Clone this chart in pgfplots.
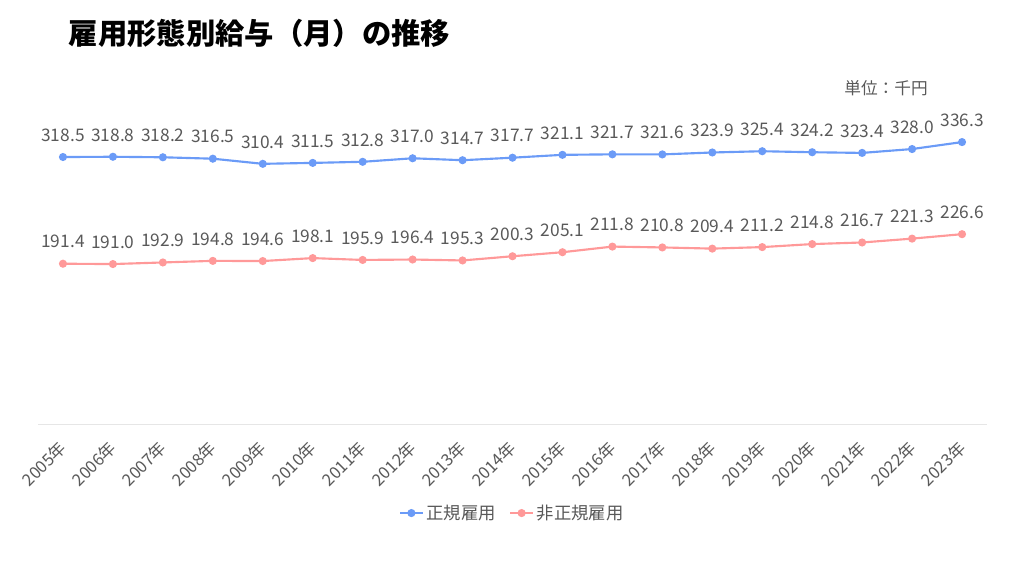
\documentclass[border=0pt]{standalone}
\usepackage{pgfplots}
\pgfplotsset{compat=1.18}
\usepackage{fontspec}
\setmainfont{Noto Sans CJK JP}
\definecolor{reg}{HTML}{6B9BF7}
\definecolor{nonreg}{HTML}{FF9999}
\definecolor{txt}{HTML}{595959}
\definecolor{axisgray}{HTML}{E6E6E6}
\begin{document}
\begin{tikzpicture}
\path[use as bounding box] (0pt,0pt) rectangle (768pt,432pt);
\node[anchor=west,font=\fontsize{22}{26}\selectfont\bfseries,text=black] at (48pt,407pt) {雇用形態別給与（月）の推移};
\node[anchor=center,font=\fontsize{12.5}{14}\selectfont,text=txt] at (664.5pt,366pt) {単位：千円};
\begin{axis}[
  at={(28.5pt,113.7pt)}, anchor=south west,
  scale only axis, width=711.75pt, height=251.85pt,
  xmin=-0.5, xmax=18.5, ymin=0, ymax=400,
  axis x line=bottom, axis y line=none,
  axis line style={draw=axisgray, line width=0.8pt, -},
  xtick={0,...,18}, major tick length=0pt,
  xticklabels={2005年,2006年,2007年,2008年,2009年,2010年,2011年,2012年,2013年,2014年,2015年,2016年,2017年,2018年,2019年,2020年,2021年,2022年,2023年},
  xticklabel style={rotate=45, anchor=north east, font=\fontsize{12.5}{14}\selectfont, text=txt, inner sep=1pt, yshift=-4pt, xshift=-9.5pt},
  clip=false,
  /pgf/number format/assume math mode=true,
  nodes near coords,
  nodes near coords style={font=\fontsize{13}{15}\selectfont, text=txt, anchor=south, yshift=7.5pt, /pgf/number format/.cd, fixed, fixed zerofill, precision=1},
  legend style={at={(0.5,-0.264)}, anchor=center, draw=none, legend columns=2, font=\fontsize{13}{15}\selectfont, text=txt, /tikz/every even column/.append style={column sep=8pt}},
  legend cell align=left,
]
\addplot[color=reg, line width=1.6pt, mark=*, mark size=2.2pt] coordinates {
(0,318.5)(1,318.8)(2,318.2)(3,316.5)(4,310.4)(5,311.5)(6,312.8)(7,317.0)(8,314.7)(9,317.7)(10,321.1)(11,321.7)(12,321.6)(13,323.9)(14,325.4)(15,324.2)(16,323.4)(17,328.0)(18,336.3)};
\addlegendentry{正規雇用}
\addplot[color=nonreg, line width=1.6pt, mark=*, mark size=2.2pt] coordinates {
(0,191.4)(1,191.0)(2,192.9)(3,194.8)(4,194.6)(5,198.1)(6,195.9)(7,196.4)(8,195.3)(9,200.3)(10,205.1)(11,211.8)(12,210.8)(13,209.4)(14,211.2)(15,214.8)(16,216.7)(17,221.3)(18,226.6)};
\addlegendentry{非正規雇用}
\end{axis}
\end{tikzpicture}
\end{document}
